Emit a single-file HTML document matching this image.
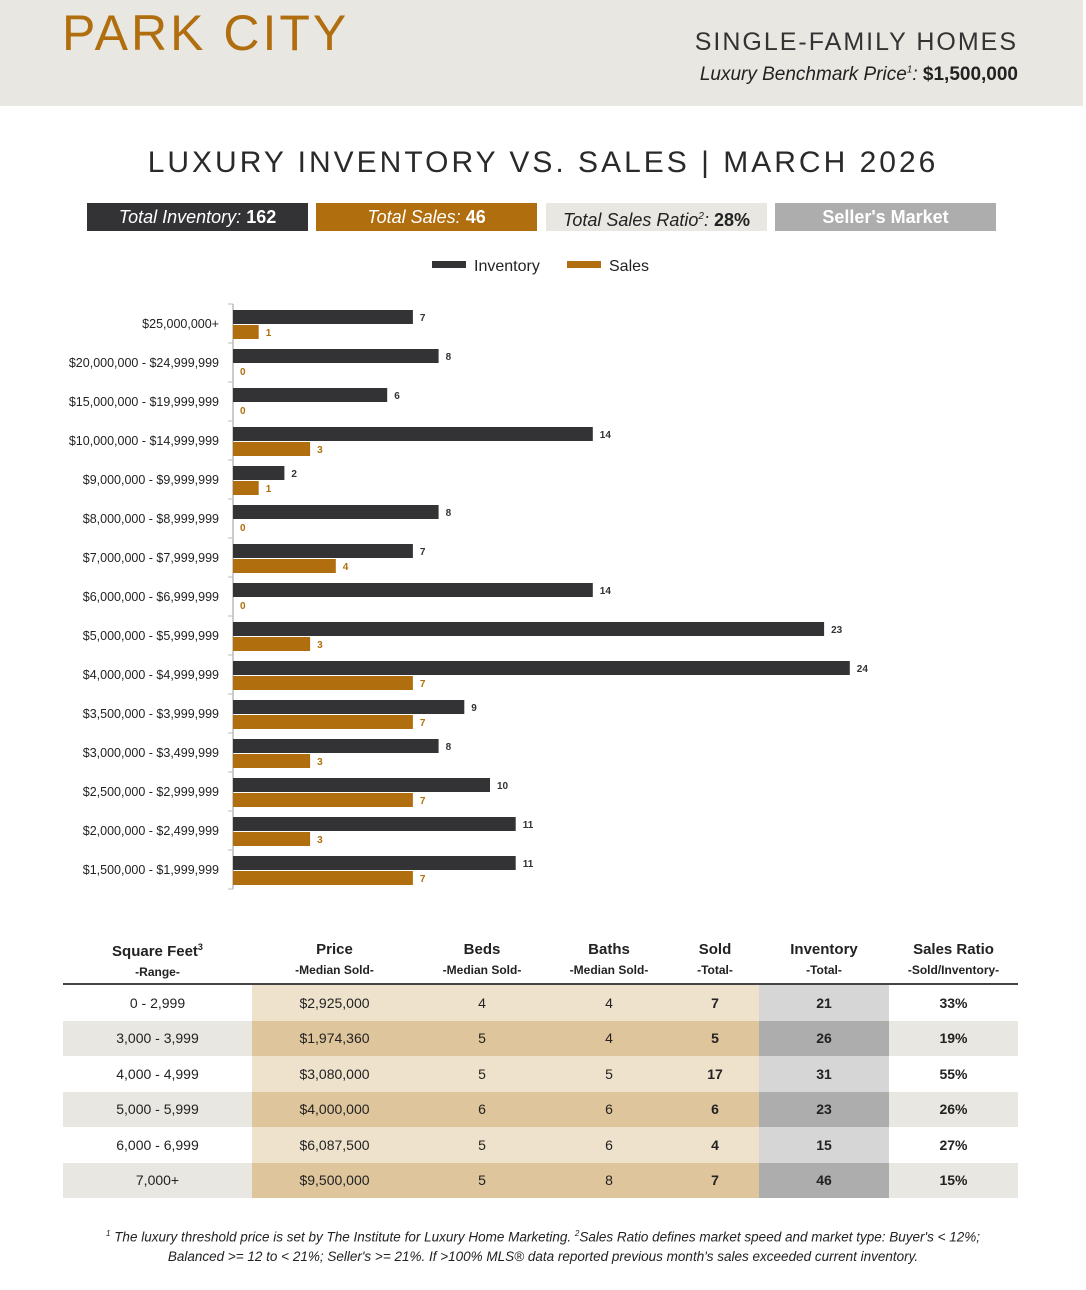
<!DOCTYPE html>
<html><head><meta charset="utf-8"><style>
body{margin:0;width:1086px;height:1290px;background:#fff;font-family:"Liberation Sans",sans-serif;position:relative;overflow:hidden}
.abs{position:absolute}
.box{position:absolute;top:203px;height:28px;width:221px;line-height:28px;text-align:center;font-size:18px;font-style:italic}
table{position:absolute;left:63px;top:936px;width:955px;border-collapse:collapse;font-size:14px;color:#222}
th{font-weight:bold;font-size:15px;height:44px;vertical-align:middle;line-height:20px}
th small{font-size:12px;display:block}
td{height:35.5px;text-align:center;padding:0}
tr.alt td{background:#e8e7e2}
td.p{background:#efe2cc} tr.alt td.p{background:#dfc59b}
td.i{background:#d6d6d6;font-weight:bold} tr.alt td.i{background:#adadad}
td.b{font-weight:bold}
</style></head><body>
<div class="abs" style="left:0;top:0;width:1083px;height:106px;background:#e8e7e2"></div>
<div class="abs" style="left:62px;top:4px;font-size:50px;letter-spacing:3px;color:#b06e0e;font-weight:300">PARK CITY</div>
<div class="abs" style="right:68px;top:28px;font-size:25px;letter-spacing:2px;color:#333">SINGLE-FAMILY HOMES</div>
<div class="abs" style="right:68px;top:64px;font-size:19px;color:#222"><i>Luxury Benchmark Price<sup style="font-size:10px">1</sup>:</i> <b>$1,500,000</b></div>
<div class="abs" style="left:0;width:1086px;top:146px;text-align:center;font-size:30px;letter-spacing:3px;color:#2a2a2a">LUXURY INVENTORY VS. SALES | MARCH 2026</div>
<div class="box" style="left:87px;background:#333336;color:#fff"><span>Total Inventory:</span> <b style="font-style:normal">162</b></div>
<div class="box" style="left:316px;background:#b06e0e;color:#fff">Total Sales: <b style="font-style:normal">46</b></div>
<div class="box" style="left:546px;background:#e8e7e2;color:#222">Total Sales Ratio<sup style="font-size:10px">2</sup>: <b style="font-style:normal">28%</b></div>
<div class="box" style="left:775px;background:#adadad;color:#fff;font-style:normal;font-weight:bold">Seller's Market</div>
<svg class="abs" style="left:0;top:0" width="1086" height="910" id="chart">
<rect x="432" y="261" width="34" height="7" fill="#333336"/>
<text x="474" y="271" font-size="16" fill="#222">Inventory</text>
<rect x="567" y="261" width="34" height="7" fill="#b06e0e"/>
<text x="609" y="271" font-size="16" fill="#222">Sales</text>
</svg>
<table>
<tr style="border-bottom:2px solid #444"><th>Square Feet<sup style="font-size:9px">3</sup><small>-Range-</small></th><th>Price<small>-Median Sold-</small></th><th>Beds<small>-Median Sold-</small></th><th>Baths<small>-Median Sold-</small></th><th>Sold<small>-Total-</small></th><th>Inventory<small>-Total-</small></th><th>Sales Ratio<small>-Sold/Inventory-</small></th></tr>
<tr><td style="width:189px">0 - 2,999</td><td class="p" style="width:165px">$2,925,000</td><td class="p" style="width:130px">4</td><td class="p" style="width:124px">4</td><td class="p b" style="width:88px">7</td><td class="i" style="width:130px">21</td><td class="b">33%</td></tr>
<tr class="alt"><td>3,000 - 3,999</td><td class="p">$1,974,360</td><td class="p">5</td><td class="p">4</td><td class="p b">5</td><td class="i">26</td><td class="b">19%</td></tr>
<tr><td>4,000 - 4,999</td><td class="p">$3,080,000</td><td class="p">5</td><td class="p">5</td><td class="p b">17</td><td class="i">31</td><td class="b">55%</td></tr>
<tr class="alt"><td>5,000 - 5,999</td><td class="p">$4,000,000</td><td class="p">6</td><td class="p">6</td><td class="p b">6</td><td class="i">23</td><td class="b">26%</td></tr>
<tr><td>6,000 - 6,999</td><td class="p">$6,087,500</td><td class="p">5</td><td class="p">6</td><td class="p b">4</td><td class="i">15</td><td class="b">27%</td></tr>
<tr class="alt"><td>7,000+</td><td class="p">$9,500,000</td><td class="p">5</td><td class="p">8</td><td class="p b">7</td><td class="i">46</td><td class="b">15%</td></tr>
</table>
<div class="abs" style="left:0;width:1086px;top:1224px;text-align:center;font-size:13.5px;font-style:italic;line-height:19px;color:#222"><sup style="font-size:8px">1</sup> The luxury threshold price is set by The Institute for Luxury Home Marketing. <sup style="font-size:8px">2</sup>Sales Ratio defines market speed and market type: Buyer's &lt; 12%;<br>Balanced &gt;= 12 to &lt; 21%; Seller's &gt;= 21%. If &gt;100% MLS® data reported previous month's sales exceeded current inventory.</div>
<script>
const categories=["$25,000,000+","$20,000,000 - $24,999,999","$15,000,000 - $19,999,999","$10,000,000 - $14,999,999","$9,000,000 - $9,999,999","$8,000,000 - $8,999,999","$7,000,000 - $7,999,999","$6,000,000 - $6,999,999","$5,000,000 - $5,999,999","$4,000,000 - $4,999,999","$3,500,000 - $3,999,999","$3,000,000 - $3,499,999","$2,500,000 - $2,999,999","$2,000,000 - $2,499,999","$1,500,000 - $1,999,999"];
const inventory=[7,8,6,14,2,8,7,14,23,24,9,8,10,11,11];
const sales=[1,0,0,3,1,0,4,0,3,7,7,3,7,3,7];
const svg=document.getElementById('chart');const NS='http://www.w3.org/2000/svg';
const x0=233,unit=25.7,top0=304,band=39;
const xs=v=>x0+v*unit;const yb=i=>top0+i*band;
function mk(t,a){const e=document.createElementNS(NS,t);for(const k in a)e.setAttribute(k,a[k]);svg.appendChild(e);return e;}
const ax=mk('line',{x1:x0,x2:x0,y1:top0,y2:yb(categories.length),stroke:'#bbb','stroke-width':1.5});


for(let i=0;i<=categories.length;i++){const t=mk('line',{x1:x0-5,x2:x0,y1:yb(i),y2:yb(i),stroke:'#bbb'});

}
categories.forEach((c,i)=>{
const y=yb(i);
const l=mk('text',{x:219,y:y+24,'font-size':12.5,'text-anchor':'end',fill:'#222'});l.textContent=c;


const b1=mk('rect',{x:x0,y:y+6,width:xs(inventory[i])-x0,height:14,fill:'#333336'});


const t1=mk('text',{x:xs(inventory[i])+7,y:y+17,'font-size':10,'font-weight':'bold',fill:'#333'});t1.textContent=inventory[i];


if(sales[i]>0){const b2=mk('rect',{x:x0,y:y+21,width:xs(sales[i])-x0,height:14,fill:'#b06e0e'});

}
const t2=mk('text',{x:xs(sales[i])+7,y:y+32,'font-size':10,'font-weight':'bold',fill:'#b06e0e'});t2.textContent=sales[i];


});
</script>
</body></html>
